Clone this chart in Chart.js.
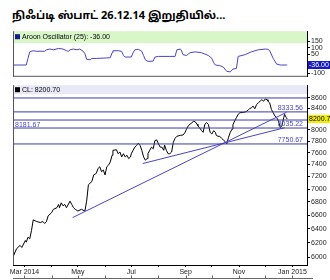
<!DOCTYPE html>
<html>
<head>
<meta charset="utf-8">
<script src="https://cdn.jsdelivr.net/npm/chart.js@4.4.1/dist/chart.umd.min.js"></script>
<style>
  body { margin: 0; background: #fff; width: 330px; height: 280px; overflow: hidden; position: relative; }
  #title { position: absolute; left: 12px; top: 9px; font: bold 11px "Noto Sans Tamil", "Lohit Tamil", "Noto Sans", sans-serif; color: #000; white-space: nowrap; }
  #osc { position: absolute; left: 0; top: 26px; }
  #price { position: absolute; left: 0; top: 80px; }
</style>
</head>
<body>
<div id="title">நிஃப்டி ஸ்பாட் 26.12.14 இறுதியில்...</div>
<canvas id="osc" width="330" height="56"></canvas>
<canvas id="price" width="330" height="200"></canvas>
<script>
// days counted from 1 Jan 2014
const priceDays = [46, 50, 54, 56, 60, 61, 63, 65, 67, 69, 73, 77, 80, 82, 84, 86, 90, 92, 96, 98,
  99, 101, 103, 105, 107, 111, 113, 115, 117, 120, 124, 128, 130, 132, 136, 138, 141, 143, 145, 147,
  149, 151, 153, 155, 157, 159, 160, 164, 166, 168, 170, 172, 174, 176, 178, 180, 181, 183, 185, 187,
  189, 191, 193, 195, 197, 199, 200, 202, 204, 206, 208, 210, 212, 214, 216, 218, 219, 221, 223, 225,
  227, 229, 231, 233, 237, 240, 242, 244, 246, 248, 250, 252, 254, 256, 257, 259, 261, 263, 265, 267,
  269, 271, 273, 275, 277, 278, 280, 282, 284, 286, 288, 290, 292, 294, 296, 297, 299, 301, 303, 305,
  309, 311, 313, 315, 316, 318, 320, 322, 324, 326, 328, 330, 332, 334, 336, 337, 339, 341, 343, 345,
  347, 349, 351, 353, 355, 356, 358, 359];
const priceCloses = [6005, 6117, 6162, 6134, 6231, 6207, 6277, 6255, 6371, 6528, 6504, 6489, 6504, 6475, 6500, 6587, 6636, 6686, 6710, 6760,
  6710, 6785, 6739, 6760, 6710, 6810, 6760, 6710, 6686, 6660, 6686, 6660, 6810, 7068, 7120, 7227, 7252, 7333, 7361, 7280,
  7307, 7227, 7361, 7389, 7443, 7555, 7640, 7650, 7582, 7611, 7527, 7582, 7527, 7555, 7498, 7527, 7582, 7640, 7695, 7725,
  7764, 7725, 7640, 7527, 7472, 7498, 7582, 7640, 7695, 7667, 7811, 7822, 7752, 7695, 7695, 7640, 7730, 7640, 7582, 7582,
  7611, 7781, 7851, 7886, 7904, 7909, 7947, 8015, 8075, 8105, 8126, 8162, 8148, 8105, 8075, 8037, 7992, 7957, 8105, 8135,
  8099, 7957, 7927, 7987, 7957, 7904, 7886, 7886, 7852, 7822, 7795, 7752, 7868, 7957, 8015, 8092, 8166, 8226, 8287, 8318,
  8324, 8331, 8350, 8379, 8393, 8411, 8443, 8393, 8473, 8505, 8537, 8567, 8537, 8581, 8567, 8537, 8505, 8379, 8318, 8257,
  8226, 8166, 8045, 8075, 8226, 8287, 8226, 8200.7];

const aroonDays = [46, 61, 63, 65, 69, 73, 79, 82, 84, 88, 92, 98, 103, 107, 109, 111, 115, 119, 122, 126,
  128, 130, 134, 136, 141, 153, 157, 159, 160, 166, 170, 172, 174, 181, 183, 185, 189, 193, 195, 197,
  200, 206, 208, 212, 225, 231, 233, 237, 238, 240, 244, 248, 254, 261, 265, 269, 273, 275, 277, 282,
  286, 290, 294, 297, 301, 303, 311, 318, 326, 334, 337, 339, 343, 347, 351, 358, 359];
const aroonValues = [-36, -36, 16, 68, 77, 72, 73, 72, 84, 90, 84, 95, 90, 77, 72, 84, 90, 84, 90, 73,
  54, 9, 5, 16, 16, 20, 22, 61, 77, 77, 72, 39, 27, 27, 61, 84, 88, 72, 39, 5,
  -7, -5, 27, 32, 32, 32, 84, 90, 82, 46, 39, 61, 68, 61, 51, 39, 16, -18, -36, -41,
  -52, -86, -90, -68, -63, 32, 46, 68, 84, 90, 88, 77, 16, -29, -36, -36, -36];

const monthDays = [59, 90, 120, 151, 181, 212, 243, 273, 304, 334, 365];
const monthLabels = ['Mar 2014', '', 'May', '', 'Jul', '', 'Sep', '', 'Nov', '', 'Jan 2015'];
const priceTicks = [8600, 8400, 8000, 7800, 7600, 7400, 7200, 7000, 6800, 6600, 6400, 6200, 6000];
const aroonTicks = [150, 100, 50, -100];

const levelValues = [8600, 8333.56, 8181.67, 8035.22, 7750.67];
const levelLabels = ['', '8333.56', '8181.67', '8035.22', '7750.67'];
const trendADays = [114, 358];
const trendAValues = [6562, 8324];
const trendBDays = [194, 356];
const trendBValues = [7415, 8040];

const lastClose = 8200.7;
const lastAroon = -36;
const dayMin = 45.9, dayMax = 381.6;

const FONT = '"Liberation Sans", Arial, sans-serif';
const LINE_BLUE = '#4a44c4';

function pts(xs, ys) { return xs.map((d, i) => ({ x: d, y: ys[i] })); }

function rightAxis(extra) {
  return Object.assign({
    position: 'right',
    afterFit: s => { s.width = 23; },
    border: { display: true, color: '#000' },
    grid: { drawOnChartArea: false, tickLength: 3, color: '#000' },
    ticks: { font: { size: 7, family: FONT }, color: '#222', padding: 1, autoSkip: false, callback: v => String(v) }
  }, extra);
}

const oscDecor = {
  id: 'oscDecor',
  afterDatasetsDraw(chart) {
    const { ctx, chartArea: a, scales: { y } } = chart;
    ctx.save();
    ctx.fillStyle = '#d8f6c8';
    ctx.fillRect(a.left, a.top, a.right - a.left, 12);
    ctx.fillStyle = '#1a1a90';
    ctx.fillRect(a.left + 2, a.top + 3, 5, 5);
    ctx.fillStyle = '#000';
    ctx.font = '7px ' + FONT;
    ctx.textBaseline = 'middle';
    ctx.fillText('Aroon Oscillator (25): ' + lastAroon.toFixed(2), a.left + 9, a.top + 6);
    ctx.strokeStyle = '#555';
    ctx.lineWidth = 1;
    ctx.beginPath();
    ctx.moveTo(a.left + 0.5, a.top); ctx.lineTo(a.left + 0.5, a.bottom);
    ctx.moveTo(a.left, a.bottom - 0.5); ctx.lineTo(a.right, a.bottom - 0.5);
    ctx.stroke();
    const yy = y.getPixelForValue(lastAroon);
    ctx.fillStyle = '#1818c8';
    ctx.fillRect(a.right + 1, yy - 4, 22, 8);
    ctx.fillStyle = '#fff';
    ctx.fillText(lastAroon.toFixed(2), a.right + 2, yy);
    ctx.restore();
  }
};

const priceDecor = {
  id: 'priceDecor',
  afterDatasetsDraw(chart) {
    const { ctx, chartArea: a, scales: { x, y } } = chart;
    ctx.save();
    ctx.fillStyle = '#e8e8f6';
    ctx.fillRect(a.left, a.top, a.right - a.left, 9);
    ctx.fillStyle = '#000';
    ctx.fillRect(a.left + 2, a.top + 2, 5, 5);
    ctx.font = '7px ' + FONT;
    ctx.textBaseline = 'middle';
    ctx.fillText('CL: ' + lastClose.toFixed(2), a.left + 9, a.top + 5);
    ctx.fillStyle = '#4848c8';
    levelValues.forEach((v, i) => {
      if (!levelLabels[i]) return;
      const py = y.getPixelForValue(v);
      if (i === 2) { ctx.textAlign = 'left'; ctx.fillText(levelLabels[i], a.left + 2, py + 5); }
      else { ctx.textAlign = 'right'; ctx.fillText(levelLabels[i], a.right - 4, py - 4); }
    });
    ctx.textAlign = 'left';
    ctx.strokeStyle = '#555';
    ctx.lineWidth = 1;
    ctx.beginPath();
    ctx.moveTo(a.left + 0.5, a.top); ctx.lineTo(a.left + 0.5, a.bottom);
    ctx.stroke();
    // thin strip under the month labels
    ctx.strokeStyle = '#666';
    ctx.beginPath();
    const by = chart.height - 1.5;
    ctx.moveTo(a.left, by); ctx.lineTo(a.right + 6, by);
    monthDays.forEach(d => {
      const px = Math.round(x.getPixelForValue(d)) + 0.5;
      ctx.moveTo(px, by); ctx.lineTo(px, by - 3);
    });
    ctx.stroke();
    const yy = y.getPixelForValue(lastClose);
    ctx.fillStyle = '#f2ee00';
    ctx.fillRect(a.right + 1, yy - 4, 23, 8);
    ctx.fillStyle = '#000';
    ctx.fillText(String(lastClose), a.right + 2, yy);
    ctx.restore();
  }
};

new Chart(document.getElementById('osc'), {
  type: 'line',
  data: {
    datasets: [{
      data: pts(aroonDays, aroonValues),
      borderColor: LINE_BLUE,
      borderWidth: 1,
      pointRadius: 0,
      tension: 0
    }]
  },
  options: {
    responsive: false,
    animation: false,
    events: [],
    layout: { padding: { left: 13, top: 2, bottom: 1, right: 0 } },
    plugins: { legend: { display: false }, tooltip: { enabled: false } },
    scales: {
      x: { type: 'linear', min: dayMin, max: dayMax, display: false },
      y: rightAxis({
        min: -129, max: 231,
        afterBuildTicks: s => { s.ticks = aroonTicks.map(v => ({ value: v })); }
      })
    }
  },
  plugins: [oscDecor]
});

const levelSets = levelValues.map(v => ({
  data: pts([dayMin, dayMax], [v, v]),
  borderColor: '#3a3aa8',
  borderWidth: 1,
  pointRadius: 0
}));

new Chart(document.getElementById('price'), {
  type: 'line',
  data: {
    datasets: [
      ...levelSets,
      { data: pts(trendADays, trendAValues), borderColor: LINE_BLUE, borderWidth: 1, pointRadius: 0 },
      { data: pts(trendBDays, trendBValues), borderColor: LINE_BLUE, borderWidth: 1, pointRadius: 0 },
      { data: pts(priceDays, priceCloses), borderColor: '#000', borderWidth: 1, pointRadius: 0, tension: 0 }
    ]
  },
  options: {
    responsive: false,
    animation: false,
    events: [],
    layout: { padding: { left: 13, top: 2, bottom: 0, right: 0 } },
    plugins: { legend: { display: false }, tooltip: { enabled: false } },
    scales: {
      x: {
        type: 'linear', min: dayMin, max: dayMax,
        afterFit: s => { s.height = 15; },
        afterBuildTicks: s => { s.ticks = monthDays.map(v => ({ value: v })); },
        border: { display: true, color: '#000' },
        grid: { drawOnChartArea: false, tickLength: 2, color: '#000' },
        ticks: {
          font: { size: 7, family: FONT }, color: '#222', padding: 1, maxRotation: 0, autoSkip: false,
          callback: (v, i) => monthLabels[i]
        }
      },
      y: rightAxis({
        type: 'logarithmic', min: 5895, max: 8852,
        afterBuildTicks: s => { s.ticks = priceTicks.map(v => ({ value: v })); }
      })
    }
  },
  plugins: [priceDecor]
});
</script>
</body>
</html>
